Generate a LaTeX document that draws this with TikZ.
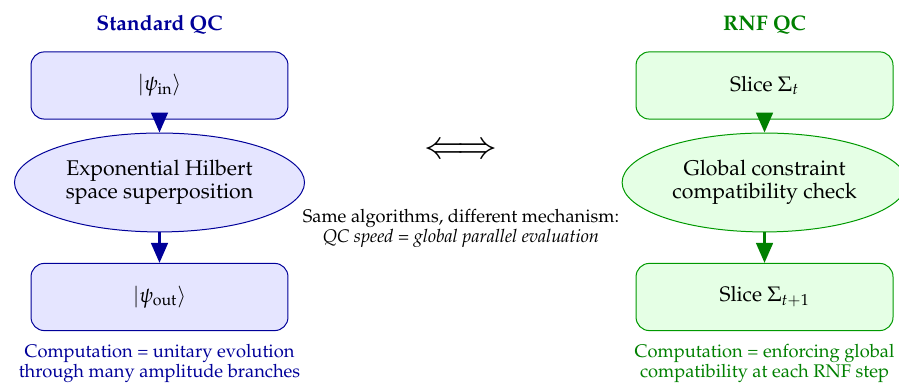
\documentclass[tikz,border=0pt]{standalone}
\usepackage[T1]{fontenc}
\usepackage{mathpazo}
\usetikzlibrary{arrows.meta,shapes.geometric}

\colorlet{qcblue}{blue!60!black}
\colorlet{rnfgreen}{green!50!black}

\tikzset{
	stepbox/.style={draw=#1!60!black, fill=#1!10, rounded corners=8pt, line width=0.6pt,
		minimum width=5.43cm, minimum height=1.42cm, align=center,
		font=\fontsize{12.6}{15}\selectfont},
	checkell/.style={ellipse, draw=#1!60!black, fill=#1!10, line width=0.6pt, inner sep=0pt,
		minimum height=2.09cm, align=center, font=\fontsize{12.8}{14.2}\selectfont},
	flow/.style={draw=#1, line width=1.6pt, -{Triangle[length=12pt,width=10pt]}},
	note/.style={align=center, font=\fontsize{11}{12}\selectfont}
}

\begin{document}
\begin{tikzpicture}
%fix picture size
			\useasboundingbox (0,0) rectangle (19,8.137);

%define coordinates
			\coordinate (lTop) at (3.371,6.330);
			\coordinate (lMid) at (3.371,4.280);
			\coordinate (lBot) at (3.371,1.860);
			\coordinate (rTop) at (16.158,6.330);
			\coordinate (rMid) at (16.158,4.280);
			\coordinate (rBot) at (16.158,1.860);

%draw titles
			\node[text=qcblue, font=\bfseries\fontsize{12.7}{15}\selectfont] (lTitle) at (3.371,7.609) {Standard QC};
			\node[text=rnfgreen, font=\bfseries\fontsize{12.7}{15}\selectfont] (rTitle) at (16.158,7.609) {RNF QC};

%draw standard QC column
			\node[stepbox=blue] (psiIn) at (lTop) {$|\psi_{\mathrm{in}}\rangle$};
			\node[checkell=blue, minimum width=6.13cm] (hilbert) at (lMid) {Exponential Hilbert\\space superposition};
			\node[stepbox=blue] (psiOut) at (lBot) {$|\psi_{\mathrm{out}}\rangle$};
			\draw[flow=qcblue] (psiIn) -- (hilbert);
			\draw[flow=qcblue] (hilbert) -- (psiOut);

%draw RNF QC column
			\node[stepbox=green] (sliceT) at (rTop) {Slice $\Sigma_t$};
			\node[checkell=green, minimum width=6.02cm] (check) at (rMid) {Global constraint\\compatibility check};
			\node[stepbox=green] (sliceNext) at (rBot) {Slice $\Sigma_{t+1}$};
			\draw[flow=rnfgreen] (sliceT) -- (check);
			\draw[flow=rnfgreen] (check) -- (sliceNext);

%draw captions
			\node[note, text=qcblue] (lNote) at (3.371,0.45) {Computation = unitary evolution\\through many amplitude branches};
			\node[note, text=rnfgreen] (rNote) at (16.158,0.45) {Computation = enforcing global\\compatibility at each RNF step};

%draw middle
			\node (equiv) at (9.743,4.946) {\fontsize{23}{26}\selectfont $\Longleftrightarrow$};
			\node[note] (same) at (9.743,3.318) {Same algorithms, different mechanism:\\\textit{QC speed = global parallel evaluation}};

		\end{tikzpicture}
\end{document}
